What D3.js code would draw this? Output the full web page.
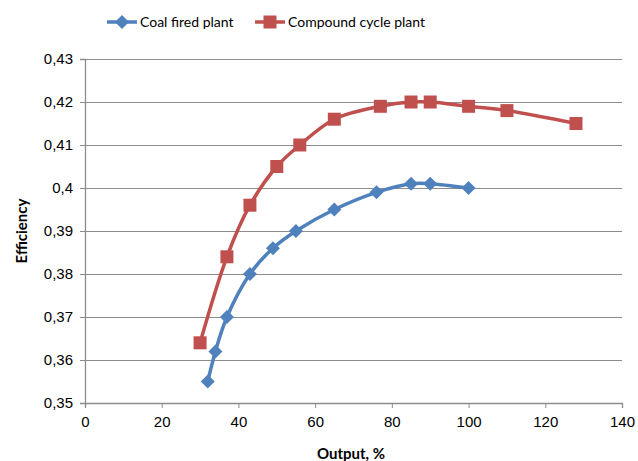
<!DOCTYPE html>
<html>
<head>
<meta charset="utf-8">
<script src="https://cdn.jsdelivr.net/npm/d3@7"></script>
<style>
  html, body { margin: 0; padding: 0; background: #fff; }
  svg { display: block; font-family: Lato, "Open Sans", "Liberation Sans", sans-serif; }
</style>
</head>
<body>
<svg id="chart" width="638" height="461"></svg>
<script>
// Efficiency vs output for two plant types
const coalOutput = [32, 34, 37, 43, 49, 55, 65, 76, 85, 90, 100];
const coalEfficiency = [0.355, 0.362, 0.370, 0.380, 0.386, 0.390, 0.395, 0.399, 0.401, 0.401, 0.400];
const compoundOutput = [30, 37, 43, 50, 56, 65, 77, 85, 90, 100, 110, 128];
const compoundEfficiency = [0.364, 0.384, 0.396, 0.405, 0.410, 0.416, 0.419, 0.420, 0.420, 0.419, 0.418, 0.415];
const xTicks = [0, 20, 40, 60, 80, 100, 120, 140];
const yTicks = [0.35, 0.36, 0.37, 0.38, 0.39, 0.40, 0.41, 0.42, 0.43];
const seriesNames = ["Coal fired plant", "Compound cycle plant"];
const seriesColors = ["#4F81BD", "#C0504D"];

const svg = d3.select("#chart");
const plot = { left: 85, right: 622, top: 59, bottom: 403 };

const x = d3.scaleLinear().domain([0, 140]).range([plot.left, plot.right]);
const y = d3.scaleLinear().domain([0.35, 0.43]).range([plot.bottom, plot.top]);

const fmtY = v => {
  const s = d3.format(".2f")(v).replace(/0$/, "");
  return s.replace(".", ",");
};

// Horizontal gridlines
svg.append("g")
  .selectAll("line")
  .data(yTicks.slice(1))
  .join("line")
  .attr("x1", plot.left).attr("x2", plot.right)
  .attr("y1", d => y(d)).attr("y2", d => y(d))
  .attr("stroke", "#8c8c8c").attr("stroke-width", 1)
  .attr("shape-rendering", "crispEdges");

// Axes
const yAxis = svg.append("g")
  .attr("transform", `translate(${plot.left},0)`)
  .call(d3.axisLeft(y).tickValues(yTicks).tickFormat(fmtY).tickSize(5).tickPadding(7));
const xAxis = svg.append("g")
  .attr("transform", `translate(0,${plot.bottom})`)
  .call(d3.axisBottom(x).tickValues(xTicks).tickFormat(d3.format("d")).tickSize(5).tickPadding(8));

[yAxis, xAxis].forEach(g => {
  g.select(".domain").attr("stroke", "#8c8c8c").attr("stroke-width", 1.3);
  g.selectAll(".tick line").attr("stroke", "#8c8c8c");
  g.selectAll(".tick text").attr("fill", "#000").style("font-size", "15px");
});

// Axis titles
svg.append("text")
  .attr("x", 351).attr("y", 459)
  .attr("text-anchor", "middle")
  .style("font-size", "15px").style("font-weight", "bold")
  .text("Output, %");
svg.append("text")
  .attr("transform", `translate(27,231) rotate(-90)`)
  .attr("text-anchor", "middle")
  .style("font-size", "15px").style("font-weight", "bold")
  .text("Efficiency");

// Series lines and markers
const line = d3.line()
  .x(d => x(d[0])).y(d => y(d[1]))
  .curve(d3.curveCatmullRom.alpha(0.5));

const series = [
  { pts: d3.zip(coalOutput, coalEfficiency), color: seriesColors[0], shape: "diamond" },
  { pts: d3.zip(compoundOutput, compoundEfficiency), color: seriesColors[1], shape: "square" }
];

const diamond = "M0,-7L7,0L0,7L-7,0Z";
const square = "M-6.5,-6.5H6.5V6.5H-6.5Z";

series.forEach(s => {
  svg.append("path")
    .datum(s.pts)
    .attr("d", line)
    .attr("fill", "none")
    .attr("stroke", s.color)
    .attr("stroke-width", 3.5)
    .attr("stroke-linejoin", "round");
  svg.append("g")
    .selectAll("path")
    .data(s.pts)
    .join("path")
    .attr("transform", d => `translate(${x(d[0])},${y(d[1])})`)
    .attr("d", s.shape === "diamond" ? diamond : square)
    .attr("fill", s.color);
});

// Legend
const legendItems = [
  { name: seriesNames[0], color: seriesColors[0], shape: diamond, x0: 107 },
  { name: seriesNames[1], color: seriesColors[1], shape: square, x0: 255 }
];
const legend = svg.append("g");
legendItems.forEach(it => {
  legend.append("line")
    .attr("x1", it.x0).attr("x2", it.x0 + 30)
    .attr("y1", 22).attr("y2", 22)
    .attr("stroke", it.color).attr("stroke-width", 3.5);
  legend.append("path")
    .attr("transform", `translate(${it.x0 + 15},22)`)
    .attr("d", it.shape)
    .attr("fill", it.color);
  legend.append("text")
    .attr("x", it.x0 + 33).attr("y", 27)
    .style("font-size", "14px")
    .text(it.name);
});
</script>
</body>
</html>
